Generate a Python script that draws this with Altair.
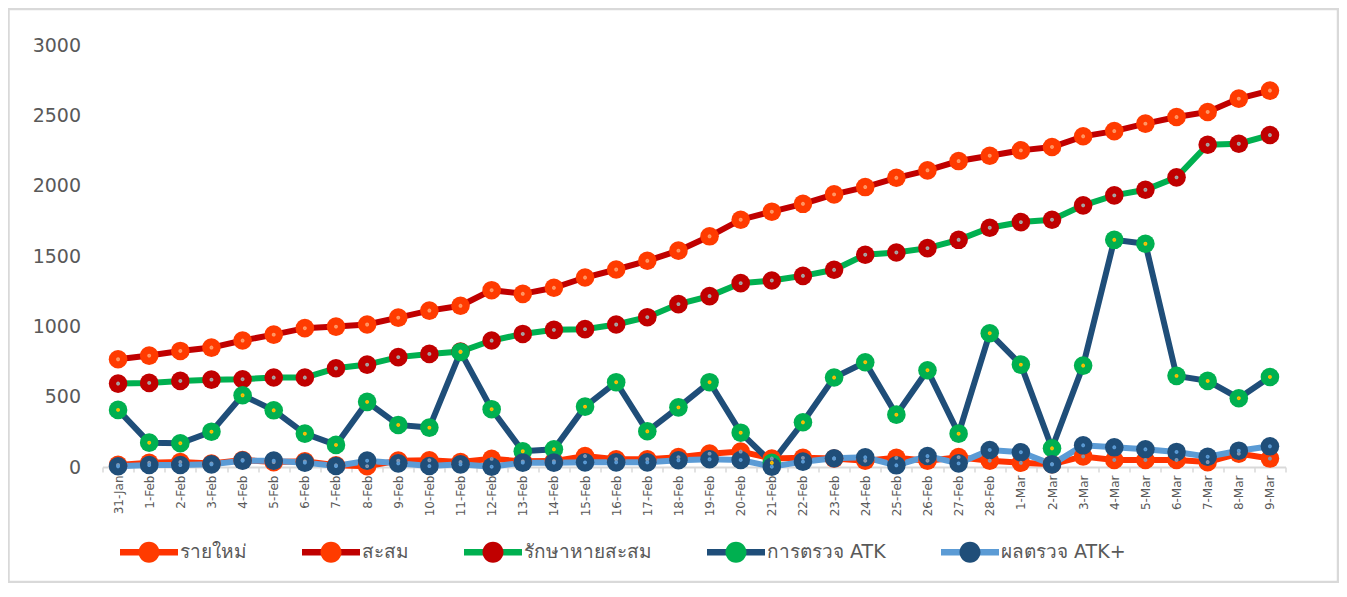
import altair as alt
import pandas as pd

categories = ["31-Jan"] + [f"{d}-Feb" for d in range(1, 29)] + [f"{d}-Mar" for d in range(1, 10)]

series_names = ["รายใหม่", "สะสม", "รักษาหายสะสม", "การตรวจ ATK", "ผลตรวจ ATK+"]

new_cases = [15, 30, 35, 25, 50, 35, 40, 12, 6, 45,
             48, 35, 58, 40, 42, 78, 55, 55, 70, 95,
             110, 60, 65, 60, 45, 65, 45, 70, 45,
             30, 20, 75, 50, 50, 50, 35, 95, 60]
cumulative = [766, 792, 825, 849, 899, 941, 987, 998, 1013, 1062,
              1112, 1146, 1257, 1231, 1274, 1347, 1404, 1466, 1538, 1640,
              1758, 1815, 1871, 1938, 1990, 2056, 2109, 2175, 2213,
              2251, 2275, 2351, 2388, 2441, 2488, 2524, 2619, 2676]
recovered = [593, 598, 612, 621, 624, 636, 636, 702, 728, 781,
             804, 821, 899, 946, 975, 980, 1013, 1065, 1158, 1215,
             1307, 1326, 1359, 1402, 1509, 1525, 1556, 1615, 1701,
             1741, 1758, 1860, 1931, 1971, 2059, 2291, 2298, 2360]
atk_tests = [406, 173, 169, 251, 510, 403, 237, 157, 463, 299,
             280, 818, 411, 112, 126, 429, 603, 254, 424, 603,
             244, 30, 318, 636, 745, 372, 688, 237, 951,
             728, 133, 721, 1615, 1587, 648, 612, 489, 640]
atk_pos = [5, 14, 14, 19, 45, 45, 31, 7, 45, 26,
           7, 19, 2, 31, 31, 33, 33, 33, 48, 55,
           50, 2, 38, 62, 69, 12, 78, 26, 121,
           105, 19, 154, 140, 126, 107, 73, 116, 147]

y_ticks = [0, 500, 1000, 1500, 2000, 2500, 3000]

line_colors = ["#FF3300", "#C00000", "#00B050", "#1F4E79", "#5B9BD5"]
marker_colors = ["#FF3B00", "#FF3B00", "#C00000", "#00B050", "#1F4E79"]
dot_colors = ["#8497B0", "#FF9966", "#A6A6A6", "#FFC000", "#5B9BD5"]

all_values = [new_cases, cumulative, recovered, atk_tests, atk_pos]
rows = []
for s_i, (name, vals) in enumerate(zip(series_names, all_values)):
    for c_i, (cat, v) in enumerate(zip(categories, vals)):
        rows.append({"series": name, "s": s_i, "cat": cat, "idx": c_i, "value": v})
df = pd.DataFrame(rows)

AXIS_FONT = "DejaVu Sans"
GRAY = "#595959"

x_enc = alt.X(
    "cat:N", sort=categories,
    scale=alt.Scale(type="band", paddingInner=0, paddingOuter=0),
    axis=alt.Axis(title=None, labelAngle=-90, labelFontSize=12, labelColor=GRAY,
                  labelFont=AXIS_FONT, domainColor="#D9D9D9", domainWidth=2,
                  tickColor="#D9D9D9", tickSize=5, tickWidth=1.5, tickBand="extent",
                  labelPadding=3, grid=False),
)
y_enc = alt.Y(
    "value:Q",
    scale=alt.Scale(domain=[0, 3000], nice=False),
    axis=alt.Axis(title=None, values=y_ticks, format="d", labelFontSize=19, labelColor=GRAY,
                  labelFont=AXIS_FONT, domain=False, ticks=False, grid=False,
                  labelPadding=22),
)

legend_common = dict(
    orient="none", legendX=17.5, legendY=478, direction="horizontal", columns=5,
    columnPadding=55, symbolSize=3364, labelFontSize=19, labelColor=GRAY,
    labelFont=AXIS_FONT, labelOffset=2, title=None, padding=0, symbolOpacity=1,
    symbolStrokeWidth=0,
)

BAR_PATH = "M-1,-0.11H1V0.11H-1Z M0,-0.362L0,0.362Z"
CIRCLE_PATH = ("M0.362,0A0.362,0.362,0,1,1,-0.362,0A0.362,0.362,0,1,1,0.362,0Z "
               "M-1,0L1,0Z")

line_legend = alt.Legend(symbolType=BAR_PATH, **legend_common)
marker_legend = alt.Legend(symbolType=CIRCLE_PATH, labelOpacity=0, **legend_common)

base = alt.Chart(df)

lines = base.mark_line(strokeWidth=6).encode(
    x=x_enc, y=y_enc,
    color=alt.Color("series:N", scale=alt.Scale(domain=series_names, range=line_colors),
                    legend=None),
    order=alt.Order("idx:Q"),
)

line_key = base.mark_point(filled=True, shape="circle", size=10, opacity=0).encode(
    x=x_enc, y=y_enc,
    fill=alt.Fill("series:N", scale=alt.Scale(domain=series_names, range=line_colors),
                  legend=line_legend),
)

markers = base.mark_point(filled=True, shape="circle", size=346, opacity=1).encode(
    x=x_enc, y=y_enc,
    fill=alt.Fill("series:N", scale=alt.Scale(domain=series_names, range=marker_colors),
                  legend=marker_legend),
)

dots = base.mark_point(filled=False, shape="circle", size=3, strokeWidth=2.2, opacity=1).encode(
    x=x_enc, y=y_enc,
    stroke=alt.Stroke("series:N", scale=alt.Scale(domain=series_names, range=dot_colors),
                      legend=None),
)

border = alt.Chart(alt.Data(values=[{"b": 1}])).mark_rect(
    fillOpacity=0, stroke="#D9D9D9", strokeWidth=2.5
).encode(
    x=alt.value(-94), x2=alt.value(1235.5), y=alt.value(-36), y2=alt.value(537)
)

chart = alt.layer(border, lines, line_key, markers, dots).resolve_scale(
    color="independent", fill="independent", stroke="independent"
).resolve_legend(
    color="independent", fill="independent", stroke="independent"
).properties(
    width=1183, height=422,
    autosize=alt.AutoSizeParams(type="none"),
    padding={"left": 94.5, "top": 37, "right": 53.5, "bottom": 116},
    background="white",
).configure_view(strokeWidth=0)

chart.save("out.html", embed_options={"renderer": "svg", "actions": False})
